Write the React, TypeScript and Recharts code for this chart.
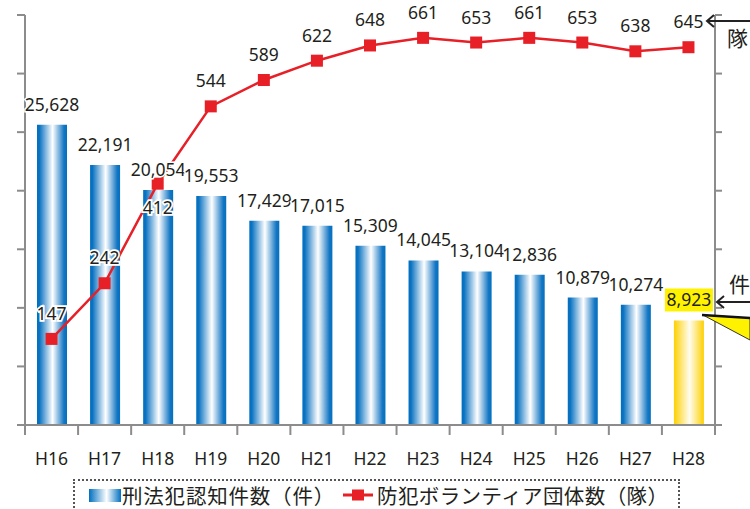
import React from 'react';
import { ComposedChart, Bar, Line, XAxis, YAxis, Cell, LabelList, Legend } from 'recharts';

const YEARS = ['H16', 'H17', 'H18', 'H19', 'H20', 'H21', 'H22', 'H23', 'H24', 'H25', 'H26', 'H27', 'H28'];
const CRIMES = [25628, 22191, 20054, 19553, 17429, 17015, 15309, 14045, 13104, 12836, 10879, 10274, 8923];
const GROUPS = [147, 242, 412, 544, 589, 622, 648, 661, 653, 661, 653, 638, 645];
const CRIME_TICKS = [0, 5000, 10000, 15000, 20000, 25000, 30000, 35000];
const GROUP_TICKS = [0, 100, 200, 300, 400, 500, 600, 700];
const HIGHLIGHT = 'H28';

const data = YEARS.map((year, i) => ({ year, crimes: CRIMES[i], groups: GROUPS[i] }));

const W = 750;
const H = 509;
const Y_AXIS_W = 8;
const M = { top: 15, right: 35 - Y_AXIS_W, left: 25 - Y_AXIS_W, bottom: 0 };
const X_AXIS_H = 84;
const PLOT_W = W - 25 - 35;
const PLOT_BOTTOM = H - X_AXIS_H;

const AXIS = '#8c8c8c';
const TEXT = '#231f20';
const RED = '#e71f27';
const NUM_FONT = '"Noto Sans", "Open Sans", sans-serif';
const JP_FONT = '"Noto Sans CJK JP", "Noto Sans", sans-serif';

const fmt = (v: number) => v.toLocaleString('en-US');

function YearTick(props: any) {
  const { x, payload, index } = props;
  const half = PLOT_W / YEARS.length / 2;
  const last = index === YEARS.length - 1;
  return (
    <g>
      <line x1={x - half} x2={x - half} y1={PLOT_BOTTOM} y2={PLOT_BOTTOM + 10} stroke={AXIS} strokeWidth={2} />
      {last && <line x1={x + half} x2={x + half} y1={PLOT_BOTTOM} y2={PLOT_BOTTOM + 10} stroke={AXIS} strokeWidth={2} />}
      <text x={x} y={PLOT_BOTTOM + 40} textAnchor="middle" fontSize={17.5} fontFamily={NUM_FONT} fill={TEXT}>
        {payload.value}
      </text>
    </g>
  );
}

function BarValue(props: any) {
  const { x, y, width, value, index } = props;
  const cx = x + width / 2;
  const by = y - 14;
  const hl = YEARS[index] === HIGHLIGHT;
  return (
    <g>
      {hl && <rect x={cx - 24} y={by - 18} width={48} height={23} fill="#fff200" />}
      <text
        x={cx}
        y={by}
        textAnchor="middle"
        fontSize={17.5}
        fontFamily={NUM_FONT}
        fill={TEXT}
        stroke={hl ? 'none' : '#fff'}
        strokeWidth={3}
        paintOrder="stroke"
      >
        {fmt(value)}
      </text>
    </g>
  );
}

function LineValue(props: any) {
  const { x, y, value, index } = props;
  // the third point sits inside a bar, its label goes below the marker
  const ty = index === 2 ? y + 30 : y - 19;
  return (
    <text
      x={x}
      y={ty}
      textAnchor="middle"
      fontSize={17.5}
      fontFamily={NUM_FONT}
      fill={TEXT}
      stroke="#fff"
      strokeWidth={3.5}
      paintOrder="stroke"
    >
      {value}
    </text>
  );
}

function SquareDot(props: any) {
  const { cx, cy, index } = props;
  return <rect key={`dot-${index}`} x={cx - 6} y={cy - 6} width={12} height={12} fill={RED} />;
}

function LegendBox() {
  return (
    <div
      style={{
        position: 'relative',
        boxSizing: 'border-box',
        width: 607,
        height: 40,
        border: '2px dotted #555',
        fontFamily: JP_FONT,
        fontSize: 20.5,
        color: TEXT,
      }}
    >
      <svg width={32} height={13} style={{ position: 'absolute', left: 14, top: 8 }}>
        <defs>
          <linearGradient id="legBlue" x1="0" x2="1" y1="0" y2="0">
            <stop offset="0" stopColor="#0070c0" />
            <stop offset="0.55" stopColor="#ffffff" />
            <stop offset="1" stopColor="#0070c0" />
          </linearGradient>
        </defs>
        <rect width={32} height={13} fill="url(#legBlue)" />
      </svg>
      <span style={{ position: 'absolute', left: 47, top: 0, lineHeight: '28px', whiteSpace: 'nowrap', letterSpacing: 0.8 }}>
        刑法犯認知件数（件）
      </span>
      <svg width={30} height={14} style={{ position: 'absolute', left: 268, top: 7 }}>
        <line x1={0} x2={30} y1={7} y2={7} stroke={RED} strokeWidth={3} />
        <rect x={9} y={1.5} width={12} height={11} fill={RED} />
      </svg>
      <span style={{ position: 'absolute', left: 302, top: 0, lineHeight: '28px', whiteSpace: 'nowrap', letterSpacing: 0.4 }}>
        防犯ボランティア団体数（隊）
      </span>
    </div>
  );
}

function Notes() {
  return (
    <svg width={W} height={H} style={{ position: 'absolute', left: 0, top: 0, pointerEvents: 'none' }}>
      <line x1={707} x2={750} y1={21} y2={21} stroke="#222" strokeWidth={2} />
      <polyline points="714,15 707,21 714,27" fill="none" stroke="#222" strokeWidth={2} />
      <text x={727} y={46} fontSize={21} fontFamily={JP_FONT} fill={TEXT}>隊</text>
      <text x={729} y={292} fontSize={21} fontFamily={JP_FONT} fill={TEXT}>件</text>
      <line x1={717} x2={750} y1={302} y2={302} stroke="#222" strokeWidth={2} />
      <polyline points="724,296 717,302 724,308" fill="none" stroke="#222" strokeWidth={2} />
      <polygon points="703,315 750,318 750,340" fill="#fff200" stroke="#333" strokeWidth={1} />
      <line x1={702} x2={750} y1={315} y2={318} stroke="#111" strokeWidth={2.5} />
    </svg>
  );
}

export default function App() {
  return (
    <div style={{ position: 'relative', width: W, height: H }}>
      <style>{'body{margin:0}'}</style>
      <ComposedChart width={W} height={H} data={data} margin={M}>
        <defs>
          <linearGradient id="barBlue" x1="0" x2="1" y1="0" y2="0">
            <stop offset="0" stopColor="#0070c0" />
            <stop offset="0.08" stopColor="#0a72c1" />
            <stop offset="0.52" stopColor="#ffffff" />
            <stop offset="0.9" stopColor="#1476c3" />
            <stop offset="1" stopColor="#0070c0" />
          </linearGradient>
          <linearGradient id="barYellow" x1="0" x2="1" y1="0" y2="0">
            <stop offset="0" stopColor="#fdd000" />
            <stop offset="0.52" stopColor="#fffdf0" />
            <stop offset="1" stopColor="#fdd000" />
          </linearGradient>
        </defs>
        <XAxis
          dataKey="year"
          height={X_AXIS_H}
          axisLine={{ stroke: AXIS, strokeWidth: 2 }}
          tickLine={false}
          tick={<YearTick />}
          interval={0}
        />
        <YAxis
          yAxisId="crimes"
          domain={[0, 35000]}
          ticks={CRIME_TICKS}
          width={Y_AXIS_W}
          tickSize={8}
          tickMargin={0}
          tickFormatter={() => ''}
          axisLine={{ stroke: AXIS, strokeWidth: 2 }}
          tickLine={{ stroke: AXIS, strokeWidth: 2 }}
        />
        <YAxis
          yAxisId="groups"
          orientation="right"
          domain={[0, 700]}
          ticks={GROUP_TICKS}
          width={Y_AXIS_W}
          tickSize={7}
          tickMargin={0}
          tickFormatter={() => ''}
          axisLine={{ stroke: AXIS, strokeWidth: 2 }}
          tickLine={{ stroke: AXIS, strokeWidth: 2 }}
        />
        <Legend verticalAlign="middle" align="center" wrapperStyle={{ top: 479, left: 73, width: 607 }} content={() => <LegendBox />} />
        <Bar yAxisId="crimes" dataKey="crimes" barSize={30} isAnimationActive={false}>
          {data.map((d) => (
            <Cell key={d.year} fill={d.year === HIGHLIGHT ? 'url(#barYellow)' : 'url(#barBlue)'} />
          ))}
          <LabelList dataKey="crimes" content={<BarValue />} />
        </Bar>
        <Line
          yAxisId="groups"
          dataKey="groups"
          stroke={RED}
          strokeWidth={2.5}
          dot={<SquareDot />}
          activeDot={false}
          isAnimationActive={false}
        >
          <LabelList dataKey="groups" content={<LineValue />} />
        </Line>
      </ComposedChart>
      <Notes />
    </div>
  );
}
